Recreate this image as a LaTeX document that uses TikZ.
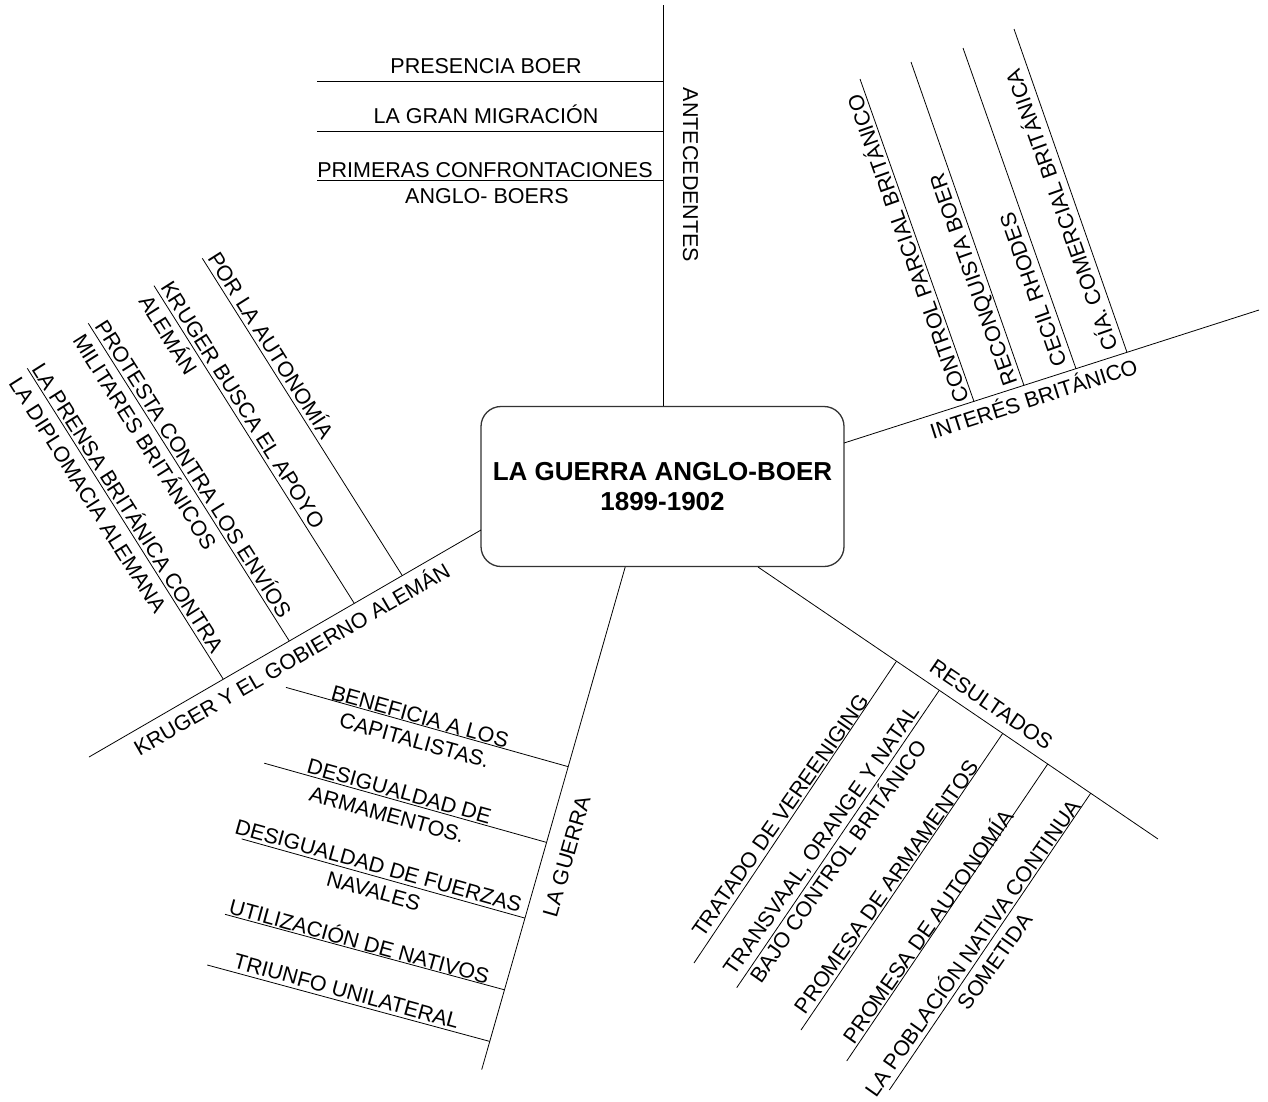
\documentclass[tikz,border=0pt]{standalone}
\usepackage{fontspec}
\setmainfont{Liberation Sans}
\usetikzlibrary{calc}

% Rotated label placed in the frame of a branch: origin, angle, offset along and across
\newcommand\branchtext[7][base west]{%
  \begin{scope}[shift={(#3)},rotate=#4]
    \node[item,transform shape,anchor=#1] (#2) at (#5pt,#6pt) {#7};
  \end{scope}}

\begin{document}
\begin{tikzpicture}[x=1pt,y=-1pt,line width=0.8pt,
  item/.style={font=\fontsize{21.5}{25}\selectfont,inner sep=0pt,outer sep=0pt},
  hubbox/.style={draw=black!80,line width=1.3pt,rounded corners=20pt,
    minimum width=363pt,minimum height=160pt,inner sep=0pt,align=center,
    font=\fontsize{26}{30}\selectfont\bfseries},
  twig/.style={draw=black}]
\useasboundingbox (0,0) rectangle (1268,1101);

% central topic
\node[hubbox] (hub) at (662.5,486.5) {LA GUERRA ANGLO-BOER\\1899-1902};

% ---------- ANTECEDENTES ----------
\coordinate (antTop) at (663,5);
\draw[twig] (antTop) -- (antTop |- hub.north);
\coordinate (pbL) at (317,81);  \coordinate (pbR) at (663,81);
\coordinate (gmL) at (317,131); \coordinate (gmR) at (663,131);
\coordinate (pcL) at (317,180); \coordinate (pcR) at (663,180);
\draw[twig] (pbL) -- (pbR);
\draw[twig] (gmL) -- (gmR);
\draw[twig] (pcL) -- (pcR);
\node[item,anchor=base] (pb) at (486,73) {PRESENCIA BOER};
\node[item,anchor=base] (gm) at (486,123) {LA GRAN MIGRACIÓN};
\node[item,anchor=base] (pc1) at (485,177) {PRIMERAS CONFRONTACIONES};
\node[item,anchor=base] (pc2) at (487,203) {ANGLO- BOERS};
\node[item,anchor=base,rotate=-90] (ant) at (683,175) {ANTECEDENTES};

% ---------- INTERÉS BRITÁNICO ----------
\coordinate (ib0) at (844,443); \coordinate (ib1) at (1259,310);
\draw[twig] (ib0) -- (ib1);
\branchtext{ibT}{ib0}{17.8}{86}{-23.6}{INTERÉS BRITÁNICO}
\coordinate (ibA0) at (974,401.6);  \coordinate (ibA1) at (860,79);
\coordinate (ibB0) at (1024,385.5); \coordinate (ibB1) at (911,62);
\coordinate (ibC0) at (1076,368.8); \coordinate (ibC1) at (963,48);
\coordinate (ibD0) at (1127,352.4); \coordinate (ibD1) at (1014,29);
\draw[twig] (ibA0) -- (ibA1);
\draw[twig] (ibB0) -- (ibB1);
\draw[twig] (ibC0) -- (ibC1);
\draw[twig] (ibD0) -- (ibD1);
\branchtext{ibA}{ibA0}{109.5}{4}{3.5}{CONTROL PARCIAL BRITÁNICO}
\branchtext{ibB}{ibB0}{109.5}{5}{5}{RECONQUISTA BOER}
\branchtext{ibC}{ibC0}{109.5}{8}{6.5}{CECIL RHODES}
\branchtext{ibD}{ibD0}{109.5}{8}{6.5}{CÍA. COMERCIAL BRITÁNICA}

% ---------- KRUGER Y EL GOBIERNO ALEMÁN ----------
\coordinate (kg0) at (481,530); \coordinate (kg1) at (89,757);
\draw[twig] (kg0) -- (kg1);
\branchtext{kgT}{kg1}{30.1}{44}{-25}{KRUGER Y EL GOBIERNO ALEMÁN}
\coordinate (kgA0) at (402.3,575.6); \coordinate (kgA1) at (202.3,258.3);
\coordinate (kgB0) at (354.3,603.4); \coordinate (kgB1) at (154,285.7);
\coordinate (kgC0) at (289.3,641);   \coordinate (kgC1) at (88.3,323.3);
\coordinate (kgD0) at (223.3,679.2); \coordinate (kgD1) at (27.3,368.3);
\draw[twig] (kgA0) -- (kgA1);
\draw[twig] (kgB0) -- (kgB1);
\draw[twig] (kgC0) -- (kgC1);
\draw[twig] (kgD0) -- (kgD1);
\branchtext{kgA}{kgA1}{-57.7}{3}{4}{POR LA AUTONOMÍA}
\branchtext{kgB1t}{kgB1}{-57.7}{5}{4}{KRUGER BUSCA EL APOYO}
\branchtext{kgB2t}{kgB1}{-57.7}{5}{-22}{ALEMÁN}
\branchtext{kgC1t}{kgC1}{-57.7}{6}{3.5}{PROTESTA CONTRA LOS ENVÍOS}
\branchtext{kgC2t}{kgC1}{-57.7}{6}{-23}{MILITARES BRITÁNICOS}
\branchtext{kgD1t}{kgD1}{-57.7}{3}{3}{LA PRENSA BRITÁNICA CONTRA}
\branchtext{kgD2t}{kgD1}{-57.7}{3}{-24}{LA DIPLOMACIA ALEMANA}

% ---------- LA GUERRA ----------
\coordinate (lg0) at (625.2,567); \coordinate (lg1) at (481.7,1069.6);
\draw[twig] (lg0) -- (lg1);
\branchtext{lgT}{lg1}{74.06}{166.3}{-30.5}{LA GUERRA}
\coordinate (lgA0) at (286,687.4);   \coordinate (lgA1) at (568,766.6);
\coordinate (lgB0) at (264.3,763.2); \coordinate (lgB1) at (546.6,842.4);
\coordinate (lgC0) at (241.7,838.9); \coordinate (lgC1) at (525,918.1);
\coordinate (lgD0) at (225,914.3);   \coordinate (lgD1) at (504.5,989.8);
\coordinate (lgE0) at (207.3,965);   \coordinate (lgE1) at (489.8,1041.4);
\draw[twig] (lgA0) -- (lgA1);
\draw[twig] (lgB0) -- (lgB1);
\draw[twig] (lgC0) -- (lgC1);
\draw[twig] (lgD0) -- (lgD1);
\draw[twig] (lgE0) -- (lgE1);
\branchtext[base]{lgA1t}{lgA0}{-15.6}{137}{0.7}{BENEFICIA A LOS}
\branchtext[base]{lgA2t}{lgA0}{-15.6}{138}{-24}{CAPITALISTAS.}
\branchtext[base]{lgB1t}{lgB0}{-15.6}{137.6}{1.8}{DESIGUALDAD DE}
\branchtext[base]{lgB2t}{lgB0}{-15.6}{132}{-24}{ARMAMENTOS.}
\branchtext[base]{lgC1t}{lgC0}{-15.6}{139}{3.5}{DESIGUALDAD DE FUERZAS}
\branchtext[base]{lgC2t}{lgC0}{-15.6}{141}{-22}{NAVALES}
\branchtext{lgDt}{lgD0}{-15.3}{2.5}{1.8}{UTILIZACIÓN DE NATIVOS}
\branchtext{lgEt}{lgE0}{-15.3}{25}{4}{TRIUNFO UNILATERAL}

% ---------- RESULTADOS ----------
\coordinate (rs0) at (758,567); \coordinate (rs1) at (1158,839);
\draw[twig] (rs0) -- (rs1);
\branchtext{rsT}{rs0}{-34.2}{199}{10}{RESULTADOS}
\coordinate (rsA1) at (896.5,661.2);  \coordinate (rsA0) at (694,963);
\coordinate (rsB1) at (939.3,690.3);  \coordinate (rsB0) at (736.7,987.7);
\coordinate (rsC1) at (1002.7,733.4); \coordinate (rsC0) at (801,1030);
\coordinate (rsD1) at (1047.7,764);   \coordinate (rsD0) at (846.7,1061);
\coordinate (rsE1) at (1090.7,793.2); \coordinate (rsE0) at (889.3,1090);
\draw[twig] (rsA1) -- (rsA0);
\draw[twig] (rsB1) -- (rsB0);
\draw[twig] (rsC1) -- (rsC0);
\draw[twig] (rsD1) -- (rsD0);
\draw[twig] (rsE1) -- (rsE0);
\branchtext{rsAt}{rsA0}{54.9}{25}{6.5}{TRATADO DE VEREENIGING}
\branchtext{rsB1t}{rsB0}{54.9}{7.6}{8}{TRANSVAAL, ORANGE Y NATAL}
\branchtext{rsB2t}{rsB0}{54.9}{17}{-18}{BAJO CONTROL BRITÁNICO}
\branchtext{rsCt}{rsC0}{54.9}{15}{4.5}{PROMESA DE ARMAMENTOS}
\branchtext{rsDt}{rsD0}{54.9}{17}{3}{PROMESA DE AUTONOMÍA}
\branchtext{rsE1t}{rsE0}{54.9}{-14}{6}{LA POBLACIÓN NATIVA CONTINUA}
\branchtext[base]{rsE2t}{rsE0}{54.9}{166}{-20}{SOMETIDA}
\end{tikzpicture}
\end{document}
